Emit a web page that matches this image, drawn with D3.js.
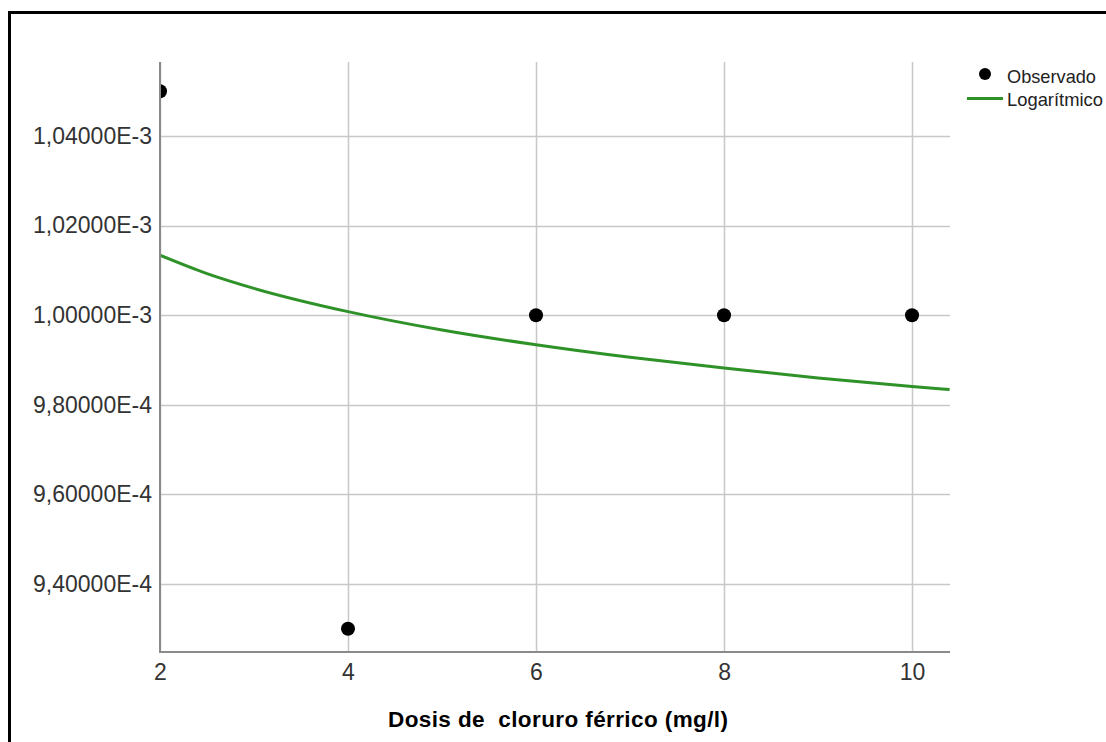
<!DOCTYPE html>
<html>
<head>
<meta charset="utf-8">
<script src="https://cdn.jsdelivr.net/npm/d3@7/dist/d3.min.js"></script>
<style>
  html, body { margin: 0; padding: 0; background: #fff; }
  svg { display: block; }
  text { font-family: "Liberation Sans", Arial, sans-serif; }
</style>
</head>
<body>
<script>
// ---- data ----
const obsX = [2, 4, 6, 8, 10];
const obsY = [1.05e-3, 0.93e-3, 1.00e-3, 1.00e-3, 1.00e-3];

// Logarithmic fit curve
const fitX = [2, 2.5, 3, 4, 5, 6, 7, 8, 9, 10, 10.4];
const fitY = [1.0134e-3, 1.0093e-3, 1.0060e-3, 1.0008e-3, 0.9967e-3, 0.9934e-3, 0.9906e-3, 0.9882e-3, 0.9860e-3, 0.9841e-3, 0.9834e-3];

const xTicks = [2, 4, 6, 8, 10];
const yTicks = [0.94e-3, 0.96e-3, 0.98e-3, 1.00e-3, 1.02e-3, 1.04e-3];
const yTickLabels = ["9,40000E-4", "9,60000E-4", "9,80000E-4", "1,00000E-3", "1,02000E-3", "1,04000E-3"];

const xTitle = "Dosis de  cloruro férrico (mg/l)";
const legendLabels = ["Observado", "Logarítmico"];

// ---- layout ----
const W = 1106, H = 742;
const plot = { left: 160, right: 950, top: 62, bottom: 652 };

const svg = d3.select("body").append("svg").attr("width", W).attr("height", H);

// frame
svg.append("path")
  .attr("d", `M9.5,${H + 5} L9.5,12.5 L${W + 5},12.5`)
  .attr("fill", "none").attr("stroke", "#000").attr("stroke-width", 3);

const x = d3.scaleLinear().domain([2, 10.404]).range([plot.left, plot.right]);
const y = d3.scaleLinear().domain([0.92482e-3, 1.05652e-3]).range([plot.bottom, plot.top]);

// gridlines
const grid = svg.append("g");
grid.selectAll("line.h").data(yTicks).join("line")
  .attr("x1", plot.left).attr("x2", plot.right)
  .attr("y1", d => Math.round(y(d)) + 0.5).attr("y2", d => Math.round(y(d)) + 0.5)
  .attr("stroke", "#c8c8c8").attr("stroke-width", 1.5);
grid.selectAll("line.v").data(xTicks).join("line")
  .attr("y1", plot.top).attr("y2", plot.bottom)
  .attr("x1", d => Math.round(x(d)) + 0.5).attr("x2", d => Math.round(x(d)) + 0.5)
  .attr("stroke", "#c8c8c8").attr("stroke-width", 1.5);

// axes
const yAxis = d3.axisLeft(y).tickValues(yTicks).tickSize(0).tickPadding(8)
  .tickFormat((d, i) => yTickLabels[i]);
const gy = svg.append("g").attr("transform", `translate(${plot.left},0)`).call(yAxis);
gy.select(".domain").remove();
gy.selectAll("text").attr("font-size", 23).attr("fill", "#333")
  .attr("font-family", "'Liberation Sans', Arial, sans-serif");

const xAxis = d3.axisBottom(x).tickValues(xTicks).tickSize(0).tickPadding(12)
  .tickFormat(d3.format("d"));
const gx = svg.append("g").attr("transform", `translate(0,${plot.bottom})`).call(xAxis);
gx.select(".domain").remove();
gx.selectAll("text").attr("font-size", 23).attr("fill", "#333")
  .attr("font-family", "'Liberation Sans', Arial, sans-serif");

// axis lines
svg.append("line").attr("x1", plot.left).attr("x2", plot.left)
  .attr("y1", plot.top).attr("y2", plot.bottom + 1)
  .attr("stroke", "#8a8a8a").attr("stroke-width", 2);
svg.append("line").attr("x1", plot.left).attr("x2", plot.right)
  .attr("y1", plot.bottom).attr("y2", plot.bottom)
  .attr("stroke", "#8a8a8a").attr("stroke-width", 2);

// clip
svg.append("clipPath").attr("id", "clip").append("rect")
  .attr("x", plot.left + 1).attr("y", plot.top)
  .attr("width", plot.right - plot.left).attr("height", plot.bottom - plot.top);

const g = svg.append("g").attr("clip-path", "url(#clip)");

// fit curve
const line = d3.line().x(d => x(d[0])).y(d => y(d[1])).curve(d3.curveMonotoneX);
g.append("path").datum(fitX.map((v, i) => [v, fitY[i]]))
  .attr("d", line).attr("fill", "none")
  .attr("stroke", "#2f9228").attr("stroke-width", 3);

// observed points
g.selectAll("circle").data(obsX.map((v, i) => [v, obsY[i]])).join("circle")
  .attr("cx", d => x(d[0])).attr("cy", d => y(d[1])).attr("r", 7)
  .attr("fill", "#000");

// x title
svg.append("text").attr("x", 388).attr("y", 727).attr("text-anchor", "start")
  .attr("font-size", 22.5).attr("font-weight", "bold").attr("fill", "#000")
  .attr("xml:space", "preserve").style("white-space", "pre")
  .attr("textLength", 340).attr("lengthAdjust", "spacing")
  .text(xTitle);

// legend
const lg = svg.append("g");
lg.append("circle").attr("cx", 985).attr("cy", 74).attr("r", 6).attr("fill", "#000");
lg.append("line").attr("x1", 967).attr("x2", 1003).attr("y1", 98.5).attr("y2", 98.5)
  .attr("stroke", "#2f9228").attr("stroke-width", 3);
lg.append("text").attr("x", 1007).attr("y", 83).attr("font-size", 19)
  .attr("fill", "#222").attr("textLength", 89).attr("lengthAdjust", "spacingAndGlyphs")
  .text(legendLabels[0]);
lg.append("text").attr("x", 1007).attr("y", 106).attr("font-size", 19)
  .attr("fill", "#222").attr("textLength", 96).attr("lengthAdjust", "spacingAndGlyphs")
  .text(legendLabels[1]);
</script>
</body>
</html>
